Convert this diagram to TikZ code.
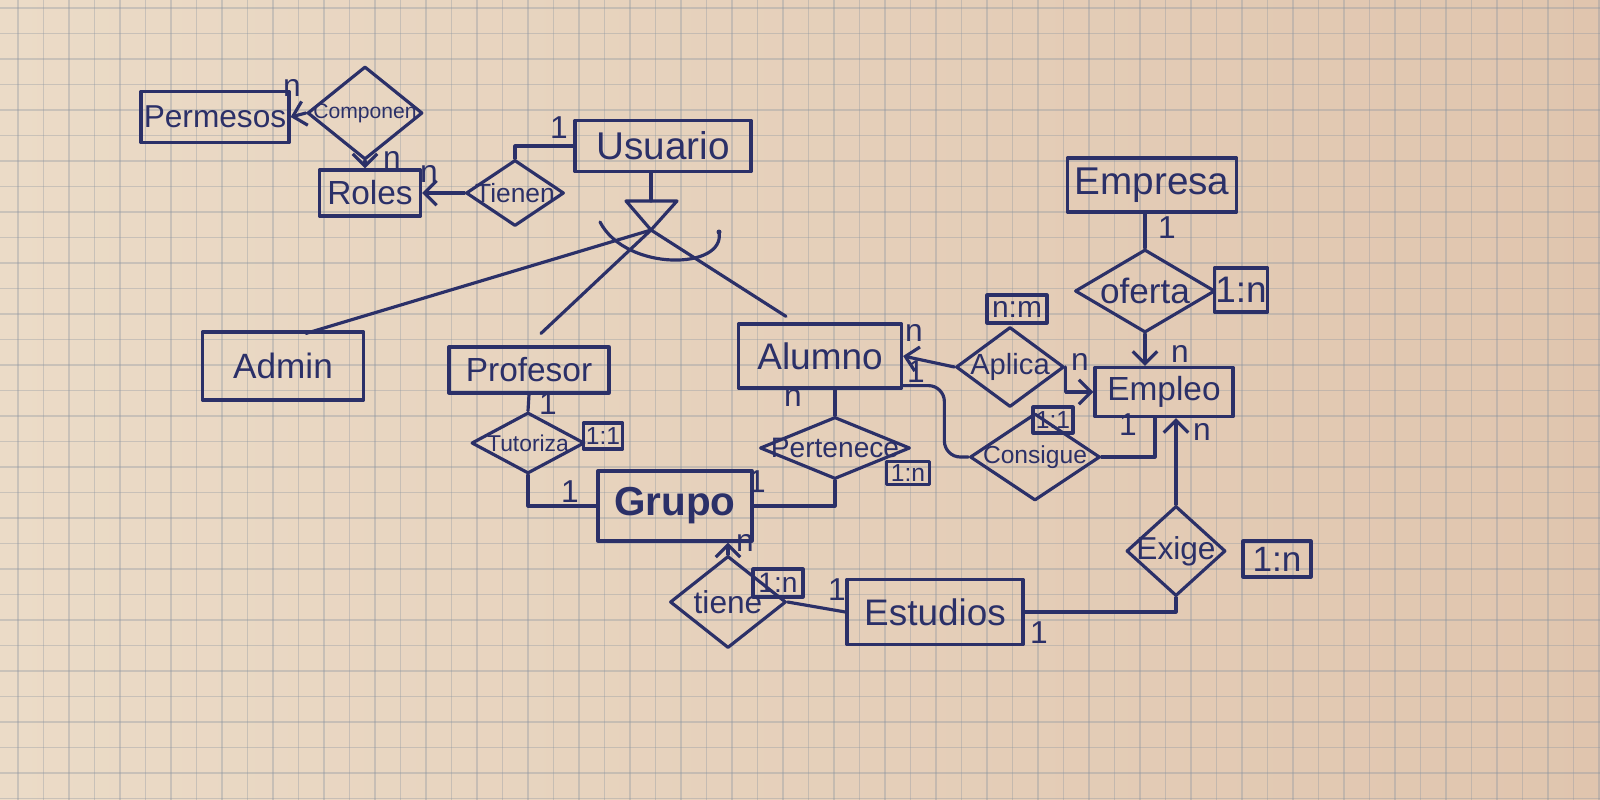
\documentclass[tikz,border=0pt]{standalone}
\usepackage{fontspec}
\setmainfont{Liberation Sans}
\usetikzlibrary{shapes.geometric,arrows.meta,calc}
\definecolor{ink}{HTML}{2B3068}
\definecolor{paperA}{HTML}{EBDBC7}
\definecolor{paperB}{HTML}{E0C5AE}
\definecolor{gridc}{HTML}{8A94A0}
\newcommand{\fsz}[1]{\fontsize{#1}{#1}\selectfont}
\newcommand{\ctext}[1]{\makebox[0pt]{#1}}
\begin{document}
\begin{tikzpicture}[x=0.01cm,y=-0.01cm,
  inkline/.style={draw=ink, line width=0.9pt, line cap=round, line join=round},
  ent/.style={rectangle, inkline, inner sep=0pt, text=ink},
  rel/.style={diamond, inkline, inner sep=0pt, text=ink},
  ratio/.style={rectangle, inkline, inner sep=0pt, text=ink},
  card/.style={text=ink, inner sep=0pt},
  conn/.style={inkline},
  arr/.style={inkline, -{Straight Barb[length=3.5pt,width=7pt]}},
  gridline/.style={draw=gridc, line width=0.5pt, opacity=0.35}]
\useasboundingbox (0,0) rectangle (1600,800);
% paper
\shade[left color=paperA, right color=paperB] (0,0) rectangle (1600,800);
\foreach \k in {0,...,62} {\draw[gridline] ({18+25.5*\k},0) -- ({18+25.5*\k},800);}
\foreach \k in {0,...,31} {\draw[gridline] (0,{8+25.5*\k}) -- (1600,{8+25.5*\k});}

% entities
\node[ent, minimum width=1.48cm, minimum height=0.51cm] (perm) at (215,117) {\fsz{9}\ctext{Permesos}};
\node[ent, minimum width=1.01cm, minimum height=0.46cm] (roles) at (370,193) {\fsz{9.5}\ctext{Roles}};
\node[ent, minimum width=1.76cm, minimum height=0.51cm] (usu) at (663,146) {\fsz{11}\ctext{Usuario}};
\node[ent, minimum width=1.61cm, minimum height=0.68cm] (admin) at (283,366) {\fsz{10}\ctext{Admin}};
\node[ent, minimum width=1.60cm, minimum height=0.46cm] (prof) at (529,370) {\fsz{9.5}\ctext{Profesor}};
\node[ent, minimum width=1.63cm, minimum height=0.64cm] (alum) at (820,356) {\fsz{10.5}\ctext{Alumno}};
\node[ent, minimum width=1.54cm, minimum height=0.70cm] (grupo) at (675,506) {\fsz{11.5}\bfseries\ctext{Grupo}};
\node[ent, minimum width=1.69cm, minimum height=0.54cm] (empresa) at (1152,185) {\fsz{11}\ctext{Empresa}};
\node[ent, minimum width=1.38cm, minimum height=0.49cm] (empleo) at (1164,392) {\fsz{9.5}\ctext{Empleo}};
\node[ent, minimum width=1.76cm, minimum height=0.65cm] (estud) at (935,612) {\fsz{10.5}\ctext{Estudios}};

% relationships
\node[rel, minimum width=1.15cm, minimum height=0.93cm] (comp) at (365,113) {\fsz{6}\ctext{Componen}};
\node[rel, minimum width=0.98cm, minimum height=0.66cm] (tienen) at (515,193) {\fsz{7.5}\ctext{Tienen}};
\node[rel, minimum width=1.13cm, minimum height=0.61cm] (tut) at (528,443) {\fsz{6.5}\ctext{Tutoriza}};
\node[rel, minimum width=1.50cm, minimum height=0.62cm] (pert) at (835,448) {\fsz{8}\ctext{Pertenece}};
\node[rel, minimum width=1.08cm, minimum height=0.80cm] (aplica) at (1010,367) {\fsz{8.3}\ctext{Aplica}};
\node[rel, minimum width=1.40cm, minimum height=0.83cm] (oferta) at (1145,291) {\fsz{10}\ctext{oferta}};
\node[rel, minimum width=1.30cm, minimum height=0.87cm] (consigue) at (1035,457) {\fsz{7}\ctext{Consigue}};
\node[rel, minimum width=0.99cm, minimum height=0.90cm] (exige) at (1176,551) {\fsz{9}\ctext{Exige}};
\node[rel, minimum width=1.16cm, minimum height=0.92cm] (tiene) at (728,602) {\fsz{9}\ctext{tiene}};

% ratio boxes
\node[ratio, minimum width=0.39cm, minimum height=0.26cm] (r1) at (603,436) {\fsz{7}\ctext{1:1}};
\node[ratio, minimum width=0.43cm, minimum height=0.23cm] (r2) at (908,473) {\fsz{7}\ctext{1:n}};
\node[ratio, minimum width=0.60cm, minimum height=0.28cm] (r3) at (1017,309) {\fsz{8.5}\ctext{n:m}};
\node[ratio, minimum width=0.53cm, minimum height=0.44cm] (r4) at (1241,290) {\fsz{10.5}\ctext{1:n}};
\node[ratio, minimum width=0.40cm, minimum height=0.26cm] (r5) at (1053,420) {\fsz{7}\ctext{1:1}};
\node[ratio, minimum width=0.68cm, minimum height=0.36cm] (r6) at (1277,559) {\fsz{10}\ctext{1:n}};
\node[ratio, minimum width=0.50cm, minimum height=0.28cm] (r7) at (778,583) {\fsz{8}\ctext{1:n}};

% ISA triangle
\coordinate (isatl) at (626,201);
\coordinate (isatr) at (677,201);
\coordinate (isa) at (651,230);
\draw[conn] (isatl) -- (isatr) -- (isa) -- cycle;
\draw[conn] (usu.south -| isa) -- (isa |- isatl);
\draw[conn] (isa) -- ($(admin.north)+(23,3)$);
\draw[conn] (isa) -- ($(prof.north)+(12,-12)$);
\draw[conn] (isa) -- ($(alum.north)+(-34,-6)$);
\draw[conn] ($(isa)+(-51,-8)$) .. controls ($(isa)+(-25,42)$) and ($(isa)+(75,40)$) .. ($(isa)+(68,2)$);
\fill[ink] ($(isa)+(68,2)$) circle (2.5);

% connectors
\draw[arr] (comp.west) -- (perm.east);
\draw[arr] (comp.south) -- (comp.south |- roles.north);
\draw[arr] (tienen.west) -- (roles.east);
\draw[conn] (tienen.north) |- (usu.west);
\draw[conn] (prof.south) -- (tut.north);
\draw[conn] (tut.south) |- (grupo.west);
\draw[conn] (pert.north |- alum.south) -- (pert.north);
\draw[conn] (pert.south) |- (grupo.east);
\draw[arr] (aplica.west) -- (alum.east);
\draw[arr] (aplica.east) |- (empleo.west);
\draw[conn] (oferta.north |- empresa.south) -- (oferta.north);
\draw[arr] (oferta.south) -- (oferta.south |- empleo.north);
\draw[conn, rounded corners=0.16cm] ($(alum.south east)+(0,-4)$) -| ($(consigue.west)+(-24,0)$) -- (consigue.west);
\draw[conn] (consigue.east) -| ($(empleo.south)+(-9,0)$);
\draw[arr] (exige.north) -- (exige.north |- empleo.south);
\draw[conn] (estud.east) -| (exige.south);
\draw[arr] (tiene.north) -- (tiene.north |- grupo.south);
\draw[conn] (tiene.east) -- (estud.west);

% cardinalities
\begin{scope}[every node/.style={card, font=\fsz{9}}]
\node (c1) at (292,88) {n};
\node (c2) at (392,160) {n};
\node (c3) at (429,174) {n};
\node (c4) at (559,128) {1};
\node (c5) at (548,404) {1};
\node (c6) at (570,492) {1};
\node (c7) at (757,482) {1};
\node (c8) at (793,398) {n};
\node (c9) at (914,333) {n};
\node (c10) at (916,372) {1};
\node (c11) at (1080,362) {n};
\node (c12) at (1167,228) {1};
\node (c13) at (1180,354) {n};
\node (c14) at (1128,425) {1};
\node (c15) at (1202,432) {n};
\node (c16) at (745,543) {n};
\node (c17) at (837,590) {1};
\node (c18) at (1039,633) {1};
\end{scope}
\end{tikzpicture}
\end{document}
